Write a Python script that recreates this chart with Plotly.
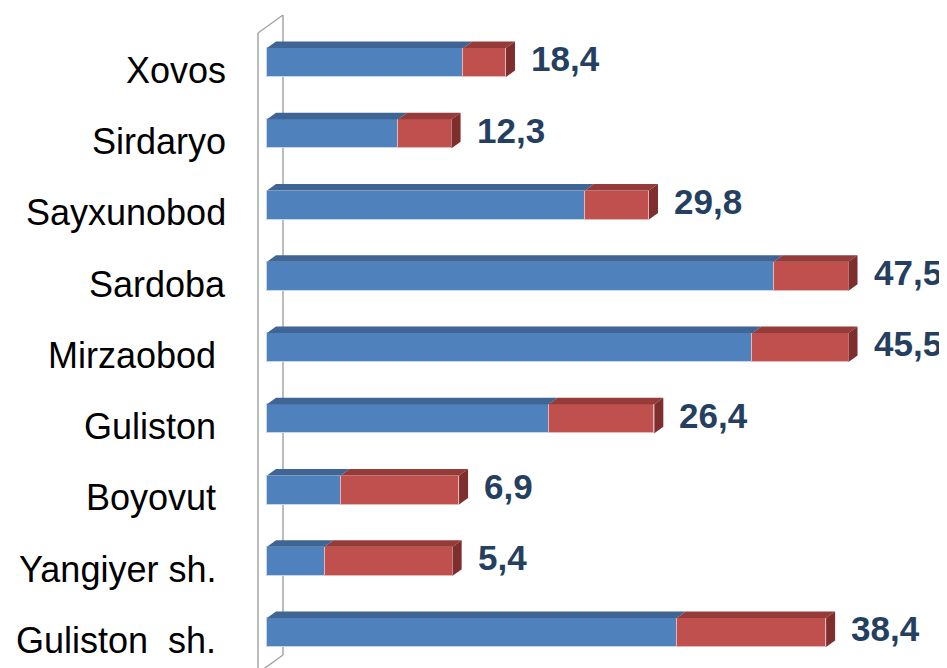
import plotly.graph_objects as go

categories = ["Xovos", "Sirdaryo", "Sayxunobod", "Sardoba", "Mirzaobod\u00a0",
              "Guliston\u00a0", "Boyovut\u00a0", "Yangiyer sh.\u00a0", "Guliston\u00a0\u00a0sh.\u00a0"]
blue_values = [18.4, 12.3, 29.8, 47.5, 45.5, 26.4, 6.9, 5.4, 38.4]
red_values = [4.0, 5.0, 6.0, 7.0, 9.0, 9.9, 11.1, 12.0, 14.0]
value_labels = ["18,4", "12,3", "29,8", "47,5", "45,5", "26,4", "6,9", "5,4", "38,4"]

BLUE = "#4F81BD"; BLUE_TOP = "#3E6593"
RED = "#C0504D"; RED_TOP = "#953B39"; RED_SIDE = "#7E2E2C"

OFF = 8              # page body margin
W, H = 939, 660
L = 267 - OFF - 17
PXU = 10.67          # pixels per x unit
PYU = 71.25          # pixels per category step
x0 = -17 / PXU
x1 = x0 + (W - L) / PXU
row0 = 62.5 - OFF
y_top = -row0 / PYU
y_bot = (H - row0) / PYU

bar_w = 29 / PYU
h = bar_w / 2
dx = 9 / PXU
dy = 6.5 / PYU

pos = list(range(len(categories)))
totals = [b + r for b, r in zip(blue_values, red_values)]

fig = go.Figure()

fig.add_trace(go.Bar(y=pos, x=blue_values, base=[0] * len(pos), orientation="h",
                     width=bar_w, marker=dict(color=BLUE, line=dict(color="#C9D6EA", width=1)),
                     showlegend=False, hoverinfo="skip"))
fig.add_trace(go.Bar(y=pos, x=red_values, base=blue_values, orientation="h",
                     width=bar_w, marker=dict(color=RED, line=dict(color="#E3B7B6", width=1)),
                     showlegend=False, hoverinfo="skip"))

# 3D top and side faces, computed from the data values
for i, (b, t) in enumerate(zip(blue_values, totals)):
    yt = i - h
    fig.add_trace(go.Scatter(x=[0, b, b + dx, dx, 0], y=[yt, yt, yt - dy, yt - dy, yt],
                             fill="toself", fillcolor=BLUE_TOP, mode="lines",
                             line=dict(width=0, color=BLUE_TOP), showlegend=False, hoverinfo="skip"))
    fig.add_trace(go.Scatter(x=[b, t, t + dx, b + dx, b], y=[yt, yt, yt - dy, yt - dy, yt],
                             fill="toself", fillcolor=RED_TOP, mode="lines",
                             line=dict(width=0, color=RED_TOP), showlegend=False, hoverinfo="skip"))
    fig.add_trace(go.Scatter(x=[t, t + dx, t + dx, t, t], y=[i - h, i - h - dy, i + h - dy, i + h, i - h],
                             fill="toself", fillcolor=RED_SIDE, mode="lines",
                             line=dict(width=0, color=RED_SIDE), showlegend=False, hoverinfo="skip"))

annotations = []
for i, (c, t, lab) in enumerate(zip(categories, totals, value_labels)):
    annotations.append(dict(xref="paper", yref="y", x=-(L - (228 - OFF)) / (W - L), y=i + 0.11,
                            text=c, showarrow=False, xanchor="right", yanchor="middle",
                            font=dict(family="Liberation Sans, Arial", size=36, color="#000000")))
    annotations.append(dict(xref="x", yref="y", x=t, y=i - 0.05, xshift=23,
                            text="<b>" + lab + "</b>", showarrow=False, xanchor="left", yanchor="middle",
                            font=dict(family="Liberation Sans, Arial", size=35, color="#243F60")))

# side wall (decoration)
wall_col = "#A6A6A6"
wx_front = -9 / PXU
wx_back = 16 / PXU
shapes = [
    dict(type="line", xref="x", yref="y", x0=wx_front, x1=wx_front, y0=(33 - 62.5) / PYU, y1=y_bot + 0.2,
         line=dict(color=wall_col, width=1.5), layer="below"),
    dict(type="line", xref="x", yref="y", x0=wx_back, x1=wx_back, y0=(15 - 62.5) / PYU, y1=(655 - 62.5) / PYU,
         line=dict(color=wall_col, width=1.5), layer="below"),
    dict(type="line", xref="x", yref="y", x0=wx_front, x1=wx_back, y0=(33 - 62.5) / PYU, y1=(15 - 62.5) / PYU,
         line=dict(color=wall_col, width=1.5), layer="below"),
    dict(type="line", xref="x", yref="y", x0=wx_back, x1=wx_front, y0=(655 - 62.5) / PYU, y1=(673 - 62.5) / PYU,
         line=dict(color=wall_col, width=1.5), layer="below"),
]

fig.update_layout(
    width=W, height=H, margin=dict(l=L, r=0, t=0, b=0),
    plot_bgcolor="white", paper_bgcolor="white",
    barmode="overlay", bargap=0,
    xaxis=dict(range=[x0, x1], visible=False, fixedrange=True),
    yaxis=dict(range=[y_bot, y_top], visible=False, fixedrange=True),
    annotations=annotations, shapes=shapes, showlegend=False,
)

fig.write_html("out.html")
